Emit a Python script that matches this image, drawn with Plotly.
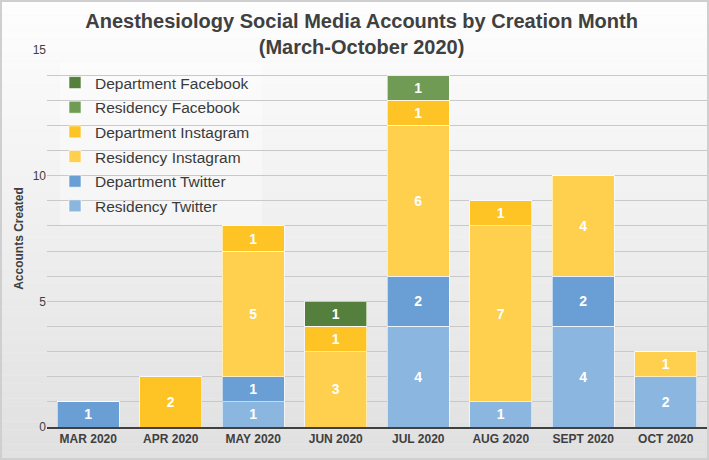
import plotly.graph_objects as go

# Data
months = ["MAR 2020", "APR 2020", "MAY 2020", "JUN 2020",
          "JUL 2020", "AUG 2020", "SEPT 2020", "OCT 2020"]
residency_twitter = [0, 0, 1, 0, 4, 1, 4, 2]
department_twitter = [1, 0, 1, 0, 2, 0, 2, 0]
residency_instagram = [0, 0, 5, 3, 6, 7, 4, 1]
department_instagram = [0, 2, 1, 1, 1, 1, 0, 0]
residency_facebook = [0, 0, 0, 0, 1, 0, 0, 0]
department_facebook = [0, 0, 0, 1, 0, 0, 0, 0]

series = [
    ("Residency Twitter", residency_twitter, "#8AB6DF"),
    ("Department Twitter", department_twitter, "#6A9FD6"),
    ("Residency Instagram", residency_instagram, "#FED04E"),
    ("Department Instagram", department_instagram, "#FEC425"),
    ("Residency Facebook", residency_facebook, "#6F9B55"),
    ("Department Facebook", department_facebook, "#557F3C"),
]

W, H = 709, 460
ML, MR, MT, MB = 47, 2, 50, 33
FONT = "Arial, Liberation Sans, sans-serif"

fig = go.Figure()
for i, (name, vals, color) in enumerate(series):
    fig.add_trace(go.Bar(
        x=months, y=vals, name=name, legendgroup=name, legendrank=100 - i,
        marker=dict(color=color, line=dict(color="rgba(255,255,255,0.6)", width=1)),
        text=[str(v) if v else "" for v in vals],
        textposition="inside", insidetextanchor="middle",
        textfont=dict(color="white", size=14, family=FONT, weight="bold"),
        hoverinfo="name+y",
    ))

# vertical gradient background (white to light grey), drawn as bands
pw, ph = W - ML - MR, H - MT - MB
x0, x1 = -ML / pw, (W - ML) / pw
y_top, y_bot = (H - MB) / ph, -MB / ph
n = 60
shapes = []
for i in range(n):
    t = i / (n - 1)
    c = int(254 - t * (254 - 225))
    ya = y_top - (y_top - y_bot) * i / n
    yb = y_top - (y_top - y_bot) * (i + 1) / n
    shapes.append(dict(type="rect", xref="paper", yref="paper", x0=x0, x1=x1,
                       y0=yb, y1=ya, fillcolor=f"rgb({c},{c},{c})",
                       line=dict(width=0), layer="below"))
shapes.append(dict(type="rect", xref="paper", yref="paper",
                   x0=x0 + 1 / pw, x1=x1 - 1 / pw, y0=y_bot + 1 / ph, y1=y_top - 1 / ph,
                   line=dict(color="#CFCFCF", width=2), layer="above"))
# legend backdrop
shapes.append(dict(type="rect", xref="paper", yref="paper",
                   x0=(60 - ML) / pw, x1=(262 - ML) / pw,
                   y0=(H - MB - 225) / ph, y1=(H - MB - 62) / ph,
                   fillcolor="rgba(255,255,255,0.35)", line=dict(width=0), layer="below"))

fig.update_layout(
    width=W, height=H,
    margin=dict(l=ML, r=MR, t=MT, b=MB),
    barmode="stack", bargap=0.25,
    paper_bgcolor="#F2F2F2", plot_bgcolor="rgba(0,0,0,0)",
    font=dict(family=FONT, color="#404040"),
    title=dict(text="<b>Anesthesiology Social Media Accounts by Creation Month<br>(March-October 2020)</b>",
               x=0.51, xref="container", xanchor="center", y=1 - 28 / H, yref="container",
               yanchor="middle",
               font=dict(size=20, color="#404040", family=FONT)),
    shapes=shapes,
    showlegend=True,
    legend=dict(x=(55 - ML) / pw, y=(H - MB - 66) / ph, xanchor="left", yanchor="top",
                traceorder="grouped", tracegroupgap=1.5,
                bgcolor="rgba(0,0,0,0)", font=dict(size=15.5, color="#3A3A3A"),
                itemwidth=30),
    xaxis=dict(tickfont=dict(size=12, color="#404040", weight="bold"),
               showline=True, linecolor="#404040", linewidth=2, ticks="",
               fixedrange=True),
    yaxis=dict(range=[0, 15], tickvals=[0, 5, 10, 15], showgrid=True,
               gridcolor="#C9C9C9", gridwidth=1, zeroline=False,
               minor=dict(dtick=1, showgrid=True, gridcolor="#C9C9C9", gridwidth=1),
               tickfont=dict(size=12, color="#404040"), ticks="", ticklen=0,
               title=dict(text="<b>Accounts Created</b>", font=dict(size=12, color="#404040"),
                          standoff=6)),
)

fig.write_html("out.html", config={"displayModeBar": False},
               post_script="document.body.style.margin='0';")
